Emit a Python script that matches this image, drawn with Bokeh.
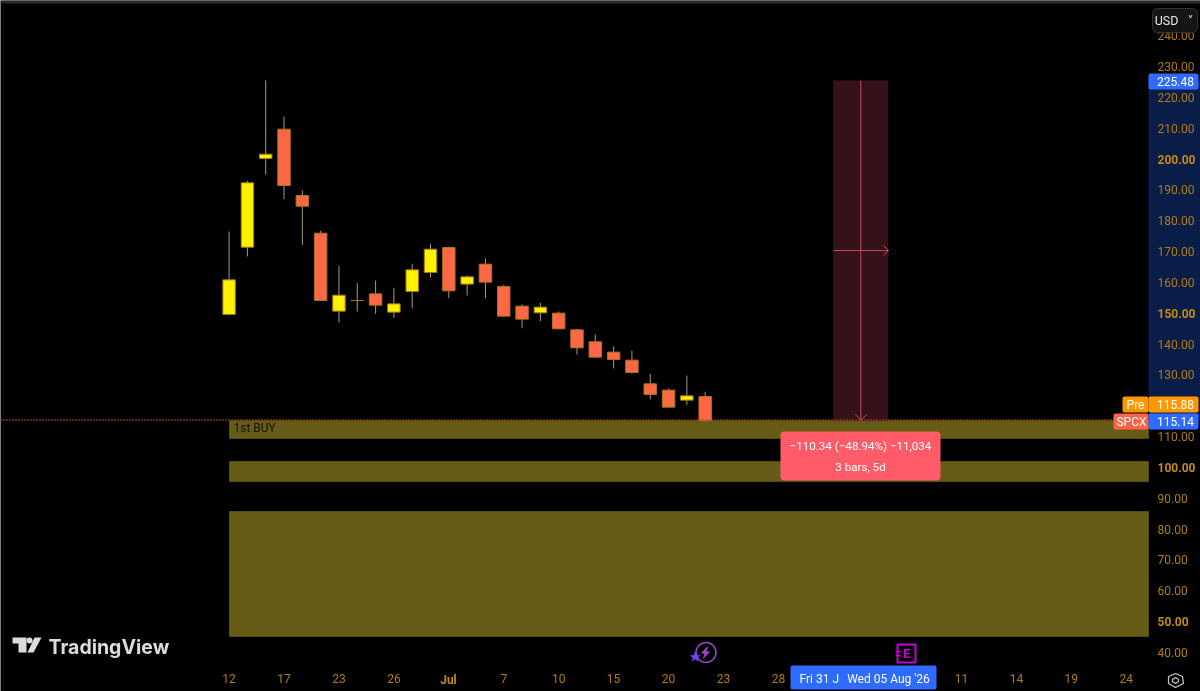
from bokeh.plotting import figure
from bokeh.models import (Range1d, FixedTicker, NumeralTickFormatter, Label, BoxAnnotation,
                          PolyAnnotation, ColumnDataSource)
from bokeh.embed import file_html
from bokeh.resources import INLINE

# ---- data -----------------------------------------------------------------
opens = [149.58, 171.40, 200.17, 209.68, 188.17, 175.95, 150.66, 154.12, 156.28, 150.34,
         157.04, 163.20, 171.30, 159.43, 165.91, 158.67, 152.29, 150.13, 150.02, 144.62,
         140.73, 137.38, 134.78, 127.11, 125.06, 121.81, 123.00]
highs = [176.50, 192.90, 225.48, 213.68, 189.80, 176.71, 165.36, 159.74, 160.60, 158.23,
         166.00, 172.39, 171.63, 162.24, 167.75, 159.20, 152.83, 153.37, 150.56, 144.94,
         143.10, 139.21, 137.81, 130.35, 125.60, 129.81, 124.51]
lows = [149.26, 168.40, 194.98, 186.98, 172.17, 153.90, 146.99, 150.56, 149.80, 148.50,
        151.60, 161.58, 154.88, 155.75, 154.89, 148.73, 145.16, 147.43, 144.83, 136.62,
        135.43, 132.08, 130.46, 122.03, 119.54, 120.30, 114.90]
closes = [160.82, 192.28, 201.57, 191.41, 184.71, 154.12, 155.85, 154.12, 152.61, 153.04,
          164.07, 170.77, 157.26, 161.80, 160.07, 149.05, 148.08, 151.97, 144.94, 138.78,
          135.76, 135.00, 130.78, 123.65, 119.54, 123.22, 115.14]

zone_tops = [115.14, 101.9, 85.7]
zone_bottoms = [109.4, 95.4, 45.2]

price_ticks = [40, 60, 70, 80, 90, 110, 120, 130, 140, 160, 170, 180, 190, 210, 220, 230, 240]
strong_price_ticks = [50, 100, 150, 200]
date_ticks = [0, 3, 6, 9, 15, 18, 21, 24, 27, 30, 40, 43, 46, 49]
date_labels = ["12", "17", "23", "26", "7", "10", "15", "20", "23", "28", "11", "14", "19", "24"]
month_tick, month_label = 12, "Jul"

last_price, pre_price, top_price = 115.14, 115.88, 225.48
measure_start, measure_end = 33, 36
measure_text = ["\u2212110.34 (\u221248.94%) \u221211,034", "3 bars, 5d"]

# ---- pixel helpers (chart's own scale) ------------------------------------
W, H, PANE_R, PANE_B = 1200, 691, 1148, 664
def X(px): return (px - 228.6) / 18.31
def Y(py): return 230 - (py - 66) / 3.084

UP, DOWN, EDGE, WICK = "#fff200", "#ff6847", "#a8760f", "#a89a7a"
AMBER, OLIVE, BLUE, ORANGE, CORAL = "#b07c12", "#665c18", "#2e6bff", "#ff9800", "#ff6347"
FONT = "Roboto"

p = figure(width=W, height=H, output_backend="svg", toolbar_location=None,
           x_range=Range1d(X(0), X(W)), y_range=Range1d(Y(H), Y(0)),
           y_axis_location="right", min_border=0,
           background_fill_color="#000000", border_fill_color="#000000", outline_line_color=None)
p.styles = {"position": "fixed", "left": "0", "top": "0"}
p.grid.visible = False

for ax in (p.xaxis[0], p.yaxis[0]):
    ax.axis_line_color = None
    ax.major_tick_line_color = None
    ax.minor_tick_line_color = None
    ax.major_tick_out = 0
    ax.major_tick_in = 0
    ax.minor_tick_out = 0
    ax.minor_tick_in = 0
    ax.major_label_text_color = AMBER
    ax.major_label_text_font = FONT
    ax.major_label_text_font_size = "12px"
p.yaxis[0].ticker = FixedTicker(ticks=price_ticks)
p.yaxis[0].formatter = NumeralTickFormatter(format="0.00")
p.yaxis[0].major_label_standoff = -43      # labels sit inside the full-page pane
p.xaxis[0].ticker = FixedTicker(ticks=date_ticks)
p.xaxis[0].major_label_overrides = dict(zip(date_ticks, date_labels))
p.xaxis[0].major_label_standoff = -18


def text(px, py, s, color="#ffffff", size="12px", style="normal", align="center", font=FONT):
    p.add_layout(Label(x=px, y=py, x_units="canvas", y_units="canvas", text=s, text_color=color,
                       text_font_size=size, text_font_style=style, text_align=align,
                       text_baseline="middle", text_font=font))


def box(x0, x1, y0, y1, color, radius=2, line=None, level="annotation"):
    p.add_layout(BoxAnnotation(left=x0, right=x1, top=y0, bottom=y1, left_units="canvas",
                               right_units="canvas", top_units="canvas", bottom_units="canvas",
                               fill_color=color, fill_alpha=1, line_color=line, line_alpha=1,
                               border_radius=radius, level=level))


# navy range band on the price scale
box(PANE_R, W, 80, 420, "#0a1c48", radius=0, level="underlay")

# buy zones
p.quad(left=X(229), right=X(PANE_R), top=zone_tops, bottom=zone_bottoms,
       fill_color=OLIVE, line_color="#574e12", line_width=1)

# measuring tool
mid = (top_price + last_price) / 2
mx = (measure_start + measure_end) / 2
MEAS = "#c84a58"
p.quad(left=[measure_start], right=[measure_end], top=[top_price], bottom=[last_price],
       fill_color="#35121a", line_color=None)
p.segment(x0=[mx, measure_start], y0=[top_price, mid], x1=[mx, measure_end], y1=[last_price, mid],
          line_color=MEAS, line_width=1)
p.line(x=[X(883), X(888), X(883)], y=[Y(245), Y(250), Y(255)], line_color=MEAS, line_width=1)
p.line(x=[X(855), X(860.4), X(866)], y=[Y(414), Y(420), Y(414)], line_color=MEAS, line_width=1)

# candles
xs = list(range(len(opens)))
src = ColumnDataSource(dict(
    x=xs, o=opens, h=highs, l=lows, c=closes,
    top=[max(a, b) for a, b in zip(opens, closes)],
    bottom=[min(a, b) for a, b in zip(opens, closes)],
    color=[UP if c >= o else DOWN for o, c in zip(opens, closes)]))
p.segment(x0="x", y0="h", x1="x", y1="l", source=src, line_color=WICK, line_width=1)
p.vbar(x="x", top="top", bottom="bottom", width=0.68, source=src,
       fill_color="color", line_color=EDGE, line_width=1)

# last price dotted line
p.segment(x0=[X(0)], y0=[last_price + 0.2], x1=[X(PANE_R)], y1=[last_price + 0.2], line_color="#b8481f",
          line_dash="1 2", line_width=2)

text(233, 427.5, "1st BUY", color="#14120a", align="left")

# brighter round price labels
for v in strong_price_ticks:
    py = 66 + (230 - v) * 3.084
    text(1157, py, f"{v:.2f}", color="#c48a14", style="bold", align="left")
text(448, 679, month_label, color="#c48a14", style="bold")

# price tags
box(1148, 1198, 73, 89, BLUE)
text(1193.5, 81, f"{top_price:.2f}", align="right")
box(1122, 1148, 396, 412, ORANGE)
text(1135, 404, "Pre")
box(1148, 1198, 396, 412, ORANGE)
text(1193.5, 404, f"{pre_price:.2f}", align="right")
box(1113, 1148, 413, 429, CORAL)
text(1131, 421, "SPCX")
box(1148, 1198, 413, 429, BLUE)
text(1193.5, 421, f"{last_price:.2f}", align="right")

# measure caption
box(780, 940, 431, 480, "#ff5b69", radius=4)
text(860, 445, measure_text[0], size="11.6px")
text(860, 466, measure_text[1], size="11.6px")

# crosshair date pill
box(790, 936, 665, 689, BLUE, radius=2)
text(799, 678, "Fri 31 J", align="left")
text(888, 678, "Wed 05 Aug '26")

# currency button
box(1152, 1197, 8, 32, "#141414", radius=5, line="#333333")
text(1166, 20, "USD", size="12.5px", color="#e8e8e8")
text(1190, 20, "\u02c5", size="12px", color="#e8e8e8", font="DejaVu Sans")

# top edge
box(0, W, 0, 3, "#2a2a2a", radius=0)

# TradingView logo
LOGO = "#dcdcdc"
p.patches(xs=[[X(v) for v in (12, 26, 26, 18, 18, 12)], [X(v) for v in (34, 41, 33, 27)]],
          ys=[[Y(v) for v in (637, 637, 652, 652, 643, 643)], [Y(v) for v in (637, 637, 652, 652)]],
          fill_color=LOGO, line_color=None)
p.scatter(x=[X(29)], y=[Y(640)], size=6, fill_color=LOGO, line_color=None)
text(48, 646, "TradingView", color=LOGO, size="19.5px", style="bold", align="left", font="Inter")

# event icons
p.scatter(x=[X(705.5)], y=[Y(652)], size=20, fill_color=None, line_color="#9a45c8", line_width=1.5)
p.patch(x=[X(v) for v in (708, 700, 704, 702, 710, 706)],
        y=[Y(v) for v in (645, 653, 653, 659, 651, 651)], fill_color="#9a45c8", line_color=None)
p.scatter(x=[X(694.5)], y=[Y(656.5)], marker="star", size=12, fill_color="#6a45ff", line_color=None)
p.quad(left=[X(897)], right=[X(915)], top=[Y(644)], bottom=[Y(662)], fill_color="#000000",
       line_color="#c800d8", line_width=2)
p.segment(x0=[X(895), X(895)], y0=[Y(651), Y(655)], x1=[X(900), X(900)], y1=[Y(651), Y(655)],
          line_color="#c800d8", line_width=1.5)
text(906.5, 653, "E", color="#c800d8", size="13px", style="bold")

# settings icon
hex_x, hex_y = [1175, 1182, 1183, 1175, 1168, 1168], [673, 676, 683, 687, 683, 676]
p.add_layout(PolyAnnotation(xs=hex_x, ys=hex_y, xs_units="canvas", ys_units="canvas", fill_alpha=0,
                            line_color="#c8c8c8", line_alpha=1, line_width=1.2))
p.add_layout(PolyAnnotation(xs=[1175, 1178, 1178, 1175, 1172, 1172], ys=[677, 679, 681, 683, 681, 679],
                            xs_units="canvas", ys_units="canvas", fill_alpha=0,
                            line_color="#c8c8c8", line_alpha=1, line_width=1.2))

open("out.html", "w").write(file_html(p, INLINE))
